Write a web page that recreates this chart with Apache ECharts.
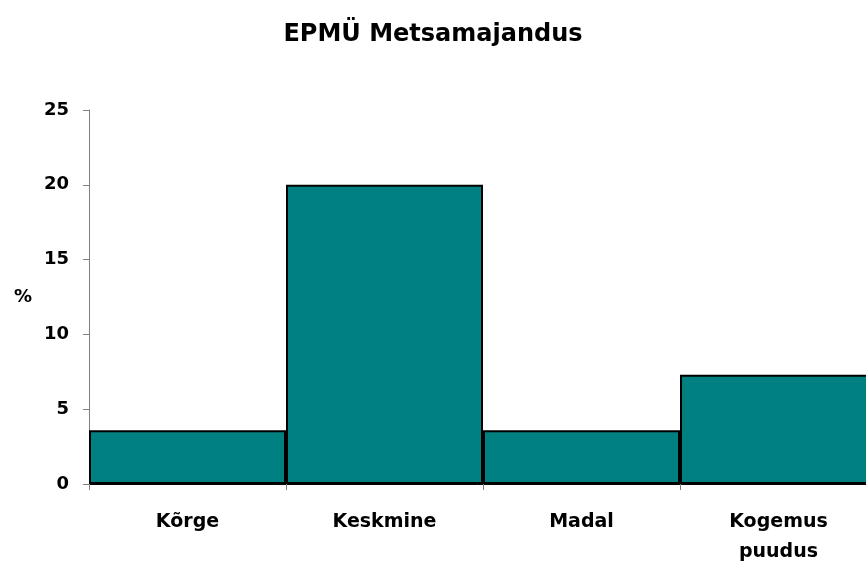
<!DOCTYPE html>
<html><head><meta charset="utf-8">
<script src="https://cdn.jsdelivr.net/npm/echarts@6/dist/echarts.min.js"></script>
<style>html,body{margin:0;padding:0;background:#fff}#c{width:866px;height:564px}</style>
</head><body><div id="c"></div>
<script>
const categories = ["Kõrge", "Keskmine", "Madal", "Kogemus\npuudus"];
const values = [3.6, 20, 3.6, 7.3];
const yTicks = [0, 5, 10, 15, 20, 25];
const titleText = "EPMÜ Metsamajandus";
const yName = "%";

const chart = echarts.init(document.getElementById('c'), null, {renderer: 'canvas'});
const font = '"DejaVu Sans", sans-serif';
chart.setOption({
  animation: false,
  backgroundColor: '#fff',
  title: {text: titleText, left: 'center', top: 18,
    textStyle: {fontFamily: font, fontWeight: 'bold', fontSize: 24, color: '#000'}},
  grid: {left: 89, top: 110, width: 788, bottom: 80, containLabel: false, outerBoundsMode: 'none'},
  xAxis: {type: 'category', data: categories, boundaryGap: true,
    axisLine: {show: true, lineStyle: {color: '#000', width: 1}},
    axisTick: {show: true, length: 6, lineStyle: {color: '#808080'}},
    axisLabel: {fontFamily: font, fontWeight: 'bold', fontSize: 19, color: '#000', margin: 23, lineHeight: 30, interval: 0}},
  yAxis: {type: 'value', min: yTicks[0], max: yTicks[yTicks.length-1], interval: 5,
    name: yName, nameLocation: 'middle', nameRotate: 0, nameGap: 57,
    nameTextStyle: {fontFamily: font, fontWeight: 'bold', fontSize: 18, color: '#000', padding: [6, 0, 0, 0]},
    axisLine: {show: true, lineStyle: {color: '#808080', width: 1}},
    axisTick: {show: true, length: 6, lineStyle: {color: '#808080'}},
    splitLine: {show: false},
    axisLabel: {fontFamily: font, fontWeight: 'bold', fontSize: 18, color: '#000', margin: 20}},
  series: [{type: 'bar', data: values, barCategoryGap: '0%', barGap: '0%',
    itemStyle: {color: '#008080', borderColor: '#000', borderWidth: 2}}]
});
</script></body></html>
